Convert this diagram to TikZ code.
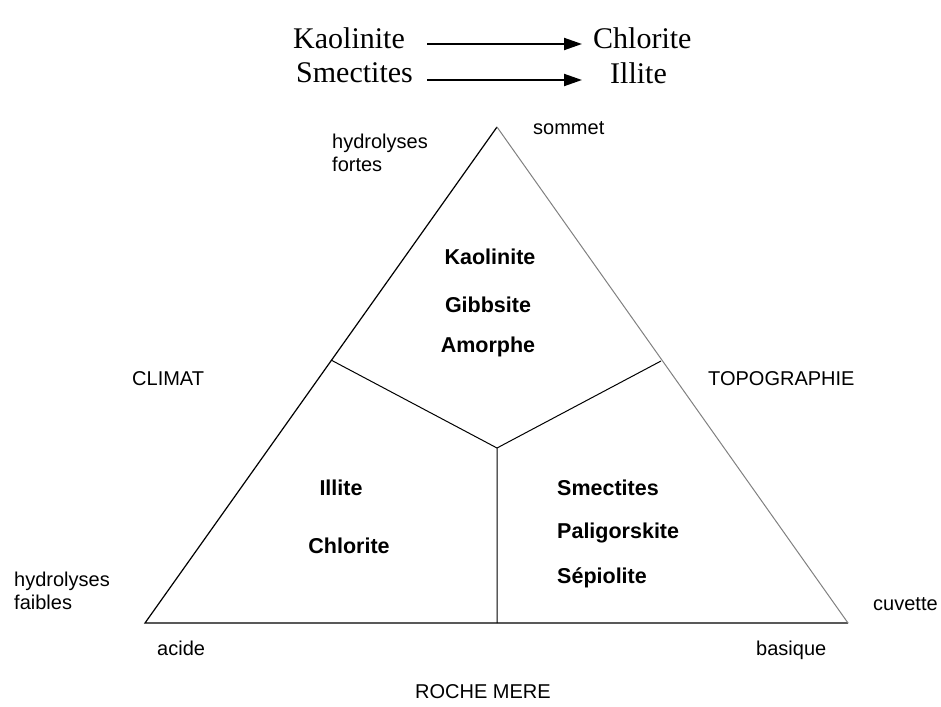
\documentclass[tikz,border=0pt]{standalone}
\usepackage{fontspec}
\setmainfont{Liberation Serif}
\newfontfamily\labfont{Liberation Sans}
\usetikzlibrary{arrows.meta}

\begin{document}
\begin{tikzpicture}[x=1pt,y=-1pt,
		legend/.style={inner sep=0pt,anchor=west,font=\fontsize{30}{32}\selectfont},
		axis/.style={inner sep=0pt,anchor=base west,align=left,font=\labfont\fontsize{20}{23}\selectfont},
		mineral/.style={inner sep=0pt,font=\labfont\bfseries\fontsize{21.5}{24}\selectfont},
		change/.style={-{Triangle[length=18pt,width=12pt]},line width=2pt}]
		\useasboundingbox (0,0) rectangle (941,706);

		% transformations
		\draw (293,38) node [legend] (kao) {Kaolinite};
		\draw (593,38) node [legend] (chl) {Chlorite};
		\draw (296,73) node [legend] (sme) {Smectites};
		\draw (610,73) node [legend] (ill) {Illite};
		\draw [change,shorten <=22pt,shorten >=11pt] ([yshift=-6]kao.east) -- ([yshift=-6]chl.west);
		\draw [change,shorten <=14pt,shorten >=28pt] ([yshift=-7]sme.east) -- ([yshift=-7]ill.west);

		% triangle
		\coordinate (s) at (497,127);
		\coordinate (a) at (145,623);
		\coordinate (b) at (848,623);
		\coordinate (m) at (497,448);
		\coordinate (p) at (331,360);
		\coordinate (q) at (661,361);
		\coordinate (r) at (497,623);
		\draw [line width=1.2pt] (b) -- (a) -- (s);
		\draw [line width=1pt,gray] (s) -- (b);
		\draw [line width=1pt] (p) -- (m) -- (q) (m) -- (r);

		% minerals
		\draw (490,257) node [mineral] (k1) {Kaolinite};
		\draw (488,305) node [mineral] (k2) {Gibbsite};
		\draw (488,347) node [mineral] (k3) {Amorphe};
		\draw (341,488) node [mineral] (i1) {Illite};
		\draw (349,546) node [mineral] (i2) {Chlorite};
		\draw (557,488) node [mineral,anchor=west] (s1) {Smectites};
		\draw (557,533) node [mineral,anchor=west] (s2) {Paligorskite};
		\draw (557,578) node [mineral,anchor=west] (s3) {Sépiolite};

		% axes
		\draw (332,171) node [axis] (hf) {hydrolyses\\fortes};
		\draw (533,135) node [axis] (som) {sommet};
		\draw (132,385) node [axis] (cli) {CLIMAT};
		\draw (708,385) node [axis] (top) {TOPOGRAPHIE};
		\draw (14,609) node [axis] (hb) {hydrolyses\\faibles};
		\draw (873,610) node [axis] (cuv) {cuvette};
		\draw (157,655) node [axis] (aci) {acide};
		\draw (756,655) node [axis] (bas) {basique};
		\draw (483,698) node [axis,anchor=base] (roc) {ROCHE MERE};
	\end{tikzpicture}
\end{document}
